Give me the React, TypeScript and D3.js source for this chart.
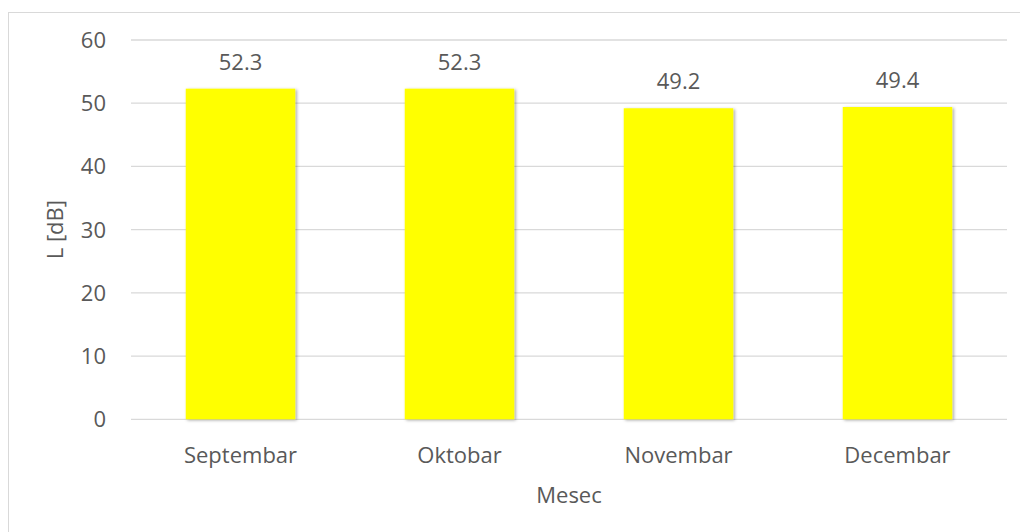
import React from "react";
import * as d3 from "d3";

const categories = ["Septembar", "Oktobar", "Novembar", "Decembar"];
const values = [52.3, 52.3, 49.2, 49.4];
const yTicks = [0, 10, 20, 30, 40, 50, 60];
const yTitle = "L [dB]";
const xTitle = "Mesec";

export default function App() {
  const W = 1020, H = 532;
  const left = 131, right = 1007, top = 40, bottom = 419.3;
  const x = d3.scaleBand<string>().domain(categories).range([left, right]).paddingInner(0.5).paddingOuter(0.25);
  const y = d3.scaleLinear().domain([0, 60]).range([bottom, top]);
  const font = "'Open Sans', 'Segoe UI', sans-serif";
  const fs = 22;
  const col = "#595959";
  return (
    <div style={{ position: "absolute", left: 0, top: 0 }}>
      <svg width={W} height={H} style={{ display: "block" }} fontFamily={font}>
        <defs>
          <filter id="sh" x="-10%" y="-10%" width="130%" height="130%">
            <feDropShadow dx="1.5" dy="1" stdDeviation="1.5" floodColor="#000" floodOpacity="0.35" />
          </filter>
        </defs>
        <rect x={0} y={0} width={W} height={H} fill="#fff" />
        <rect x={8.5} y={12.5} width={W} height={H} fill="#fff" stroke="#d9d9d9" strokeWidth={1} />
        {yTicks.map((t) => (
          <g key={t}>
            <line x1={left} x2={right} y1={y(t)} y2={y(t)} stroke="#d9d9d9" strokeWidth={1.3} />
            <text x={106} y={y(t) + 8} textAnchor="end" fontSize={fs} fill={col}>{t}</text>
          </g>
        ))}
        {categories.map((c, i) => (
          <g key={c}>
            <rect x={x(c)!} y={y(values[i])} width={x.bandwidth()} height={bottom - y(values[i])} fill="#ffff00" filter="url(#sh)" />
            <text x={x(c)! + x.bandwidth() / 2} y={y(values[i]) - 19} textAnchor="middle" fontSize={fs} fill={col}>{values[i].toFixed(1)}</text>
            <text x={x(c)! + x.bandwidth() / 2} y={463} textAnchor="middle" fontSize={fs} fill={col}>{c}</text>
          </g>
        ))}
        <text x={(left + right) / 2} y={503} textAnchor="middle" fontSize={fs} fill={col}>{xTitle}</text>
        <text transform={`translate(63,${(top + bottom) / 2}) rotate(-90)`} textAnchor="middle" fontSize={fs} fill={col}>{yTitle}</text>
      </svg>
    </div>
  );
}
